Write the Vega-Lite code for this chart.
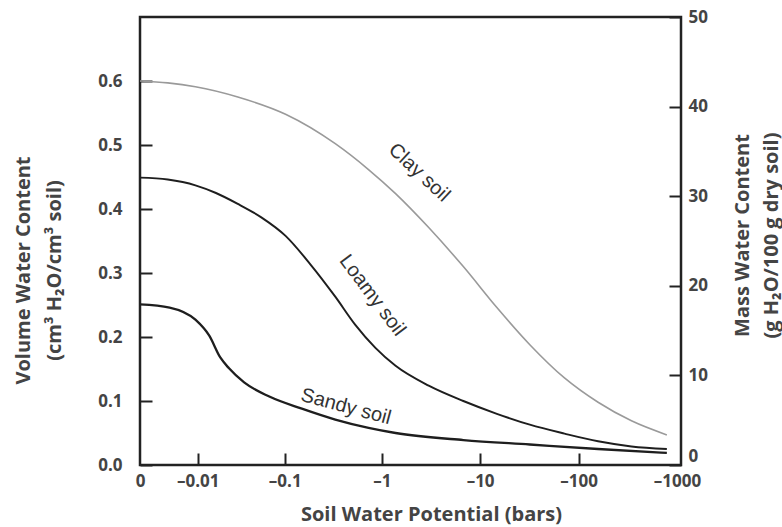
{
  "$schema": "https://vega.github.io/schema/vega-lite/v6.json",
  "width": 541,
  "height": 448,
  "autosize": {"type": "none"},
  "padding": {"left": 140, "top": 17, "right": 101, "bottom": 62},
  "background": "white",
  "config": {
    "view": {"stroke": "#222222", "strokeWidth": 2.5},
    "axis": {
      "domain": false,
      "grid": false,
      "ticks": true,
      "zindex": 1,
      "tickColor": "#222222",
      "tickWidth": 2,
      "labelFont": "Open Sans",
      "labelFontWeight": "bold",
      "labelFontSize": 17,
      "labelColor": "#444444",
      "titleFont": "Open Sans",
      "titleFontWeight": "bold",
      "titleFontSize": 20,
      "titleColor": "#444444"
    }
  },
  "datasets": {
    "curves": [
      {"soil": "Clay soil", "potential": 0, "vwc": 0.600},
      {"soil": "Clay soil", "potential": -0.0032, "vwc": 0.597},
      {"soil": "Clay soil", "potential": -0.0093, "vwc": 0.591},
      {"soil": "Clay soil", "potential": -0.031, "vwc": 0.575},
      {"soil": "Clay soil", "potential": -0.102, "vwc": 0.548},
      {"soil": "Clay soil", "potential": -0.334, "vwc": 0.502},
      {"soil": "Clay soil", "potential": -0.726, "vwc": 0.462},
      {"soil": "Clay soil", "potential": -1.38, "vwc": 0.424},
      {"soil": "Clay soil", "potential": -3.0, "vwc": 0.371},
      {"soil": "Clay soil", "potential": -6.75, "vwc": 0.310},
      {"soil": "Clay soil", "potential": -14.8, "vwc": 0.246},
      {"soil": "Clay soil", "potential": -32, "vwc": 0.188},
      {"soil": "Clay soil", "potential": -72, "vwc": 0.136},
      {"soil": "Clay soil", "potential": -158, "vwc": 0.098},
      {"soil": "Clay soil", "potential": -345, "vwc": 0.069},
      {"soil": "Clay soil", "potential": -790, "vwc": 0.047},
      {"soil": "Loamy soil", "potential": 0, "vwc": 0.449},
      {"soil": "Loamy soil", "potential": -0.0032, "vwc": 0.446},
      {"soil": "Loamy soil", "potential": -0.0093, "vwc": 0.437},
      {"soil": "Loamy soil", "potential": -0.0172, "vwc": 0.425},
      {"soil": "Loamy soil", "potential": -0.031, "vwc": 0.408},
      {"soil": "Loamy soil", "potential": -0.0563, "vwc": 0.387},
      {"soil": "Loamy soil", "potential": -0.102, "vwc": 0.358},
      {"soil": "Loamy soil", "potential": -0.184, "vwc": 0.314},
      {"soil": "Loamy soil", "potential": -0.334, "vwc": 0.263},
      {"soil": "Loamy soil", "potential": -0.536, "vwc": 0.219},
      {"soil": "Loamy soil", "potential": -0.86, "vwc": 0.183},
      {"soil": "Loamy soil", "potential": -1.38, "vwc": 0.155},
      {"soil": "Loamy soil", "potential": -3.0, "vwc": 0.124},
      {"soil": "Loamy soil", "potential": -6.75, "vwc": 0.100},
      {"soil": "Loamy soil", "potential": -14.8, "vwc": 0.080},
      {"soil": "Loamy soil", "potential": -32, "vwc": 0.063},
      {"soil": "Loamy soil", "potential": -72, "vwc": 0.049},
      {"soil": "Loamy soil", "potential": -158, "vwc": 0.037},
      {"soil": "Loamy soil", "potential": -345, "vwc": 0.029},
      {"soil": "Loamy soil", "potential": -790, "vwc": 0.025},
      {"soil": "Sandy soil", "potential": 0, "vwc": 0.251},
      {"soil": "Sandy soil", "potential": -0.0035, "vwc": 0.246},
      {"soil": "Sandy soil", "potential": -0.0093, "vwc": 0.227},
      {"soil": "Sandy soil", "potential": -0.0142, "vwc": 0.202},
      {"soil": "Sandy soil", "potential": -0.0194, "vwc": 0.168},
      {"soil": "Sandy soil", "potential": -0.0246, "vwc": 0.151},
      {"soil": "Sandy soil", "potential": -0.0365, "vwc": 0.129},
      {"soil": "Sandy soil", "potential": -0.0686, "vwc": 0.107},
      {"soil": "Sandy soil", "potential": -0.151, "vwc": 0.088},
      {"soil": "Sandy soil", "potential": -0.334, "vwc": 0.071},
      {"soil": "Sandy soil", "potential": -0.732, "vwc": 0.058},
      {"soil": "Sandy soil", "potential": -1.38, "vwc": 0.050},
      {"soil": "Sandy soil", "potential": -6.75, "vwc": 0.039},
      {"soil": "Sandy soil", "potential": -32, "vwc": 0.032},
      {"soil": "Sandy soil", "potential": -158, "vwc": 0.025},
      {"soil": "Sandy soil", "potential": -790, "vwc": 0.019}
    ]
  },
  "layer": [
    {
      "layer": [
        {
          "data": {"name": "curves"},
          "mark": {"type": "line", "interpolate": "monotone"},
          "encoding": {
            "x": {
              "field": "potential",
              "type": "quantitative",
              "scale": {"type": "symlog", "constant": 0.0035, "domain": [0, -1054]},
              "axis": {
                "orient": "bottom",
                "values": [0, -0.01, -0.1, -1, -10, -100, -1000],
                "labelExpr": "datum.value == 0 ? '0' : '–' + toString(-datum.value)",
                "tickSize": -12,
                "tickColor": {"condition": {"test": "datum.value == 0 || datum.value <= -1000", "value": "transparent"}, "value": "#222222"},
                "labelPadding": 20,
                "labelFlush": false,
                "labelOverlap": false,
                "title": "Soil Water Potential (bars)",
                "titleX": 291,
                "titleY": 49,
                "titleBaseline": "middle",
                "titleAlign": "center"
              }
            },
            "y": {
              "field": "vwc",
              "type": "quantitative",
              "scale": {"domain": [0, 0.655]},
              "axis": {
                "orient": "left",
                "values": [0, 0.1, 0.2, 0.3, 0.4, 0.5, 0.6],
                "format": ".1f",
                "tickSize": -12,
                "labelPadding": 30,
                "labelFlush": false,
                "labelOverlap": false,
                "title": ["Volume Water Content", "(cm³ H₂O/cm³ soil)"],
                "titleLineHeight": 31,
                "titleAngle": 270,
                "titleX": -117,
                "titleY": 253,
                "titleBaseline": "middle",
                "titleAlign": "center"
              }
            },
            "color": {
              "field": "soil",
              "type": "nominal",
              "scale": {"domain": ["Clay soil", "Loamy soil", "Sandy soil"], "range": ["#9a9a9a", "#1e1e1e", "#1e1e1e"]},
              "legend": null
            },
            "strokeWidth": {
              "field": "soil",
              "type": "nominal",
              "scale": {"domain": ["Clay soil", "Loamy soil", "Sandy soil"], "range": [1.6, 2.3, 2.3]},
              "legend": null
            }
          }
        },
        {
          "data": {"values": [{"label": "Clay soil", "potential": -2.4, "vwc": 0.457}]},
          "mark": {"type": "text", "angle": 43, "font": "Liberation Sans", "fontSize": 20, "color": "#333333", "align": "center", "baseline": "middle"},
          "encoding": {
            "x": {"field": "potential", "type": "quantitative"},
            "y": {"field": "vwc", "type": "quantitative"},
            "text": {"field": "label"}
          }
        },
        {
          "data": {"values": [{"label": "Loamy soil", "potential": -0.8, "vwc": 0.265}]},
          "mark": {"type": "text", "angle": 53, "font": "Liberation Sans", "fontSize": 20, "color": "#333333", "align": "center", "baseline": "middle"},
          "encoding": {
            "x": {"field": "potential", "type": "quantitative"},
            "y": {"field": "vwc", "type": "quantitative"},
            "text": {"field": "label"}
          }
        },
        {
          "data": {"values": [{"label": "Sandy soil", "potential": -0.43, "vwc": 0.091}]},
          "mark": {"type": "text", "angle": 15, "font": "Liberation Sans", "fontSize": 20, "color": "#333333", "align": "center", "baseline": "middle"},
          "encoding": {
            "x": {"field": "potential", "type": "quantitative"},
            "y": {"field": "vwc", "type": "quantitative"},
            "text": {"field": "label"}
          }
        }
      ]
    },
    {
      "data": {"values": [{"mass": 0}, {"mass": 50}]},
      "mark": {"type": "point", "opacity": 0},
      "encoding": {
        "y": {
          "field": "mass",
          "type": "quantitative",
          "scale": {"domain": [0, 50]},
          "axis": {
            "orient": "right",
            "values": [0, 10, 20, 30, 40, 50],
            "tickSize": -12,
            "labelPadding": 19,
            "labelBaseline": {"condition": {"test": "datum.value == 0", "value": "bottom"}, "value": "middle"},
            "labelFlush": false,
            "labelOverlap": false,
            "title": ["Mass Water Content", "(g H₂O/100 g dry soil)"],
            "titleLineHeight": 29,
            "titleAngle": 270,
            "titleX": 61,
            "titleY": 218,
            "titleBaseline": "middle",
            "titleAlign": "center"
          }
        }
      }
    }
  ],
  "resolve": {"scale": {"y": "independent"}, "axis": {"y": "independent"}}
}
